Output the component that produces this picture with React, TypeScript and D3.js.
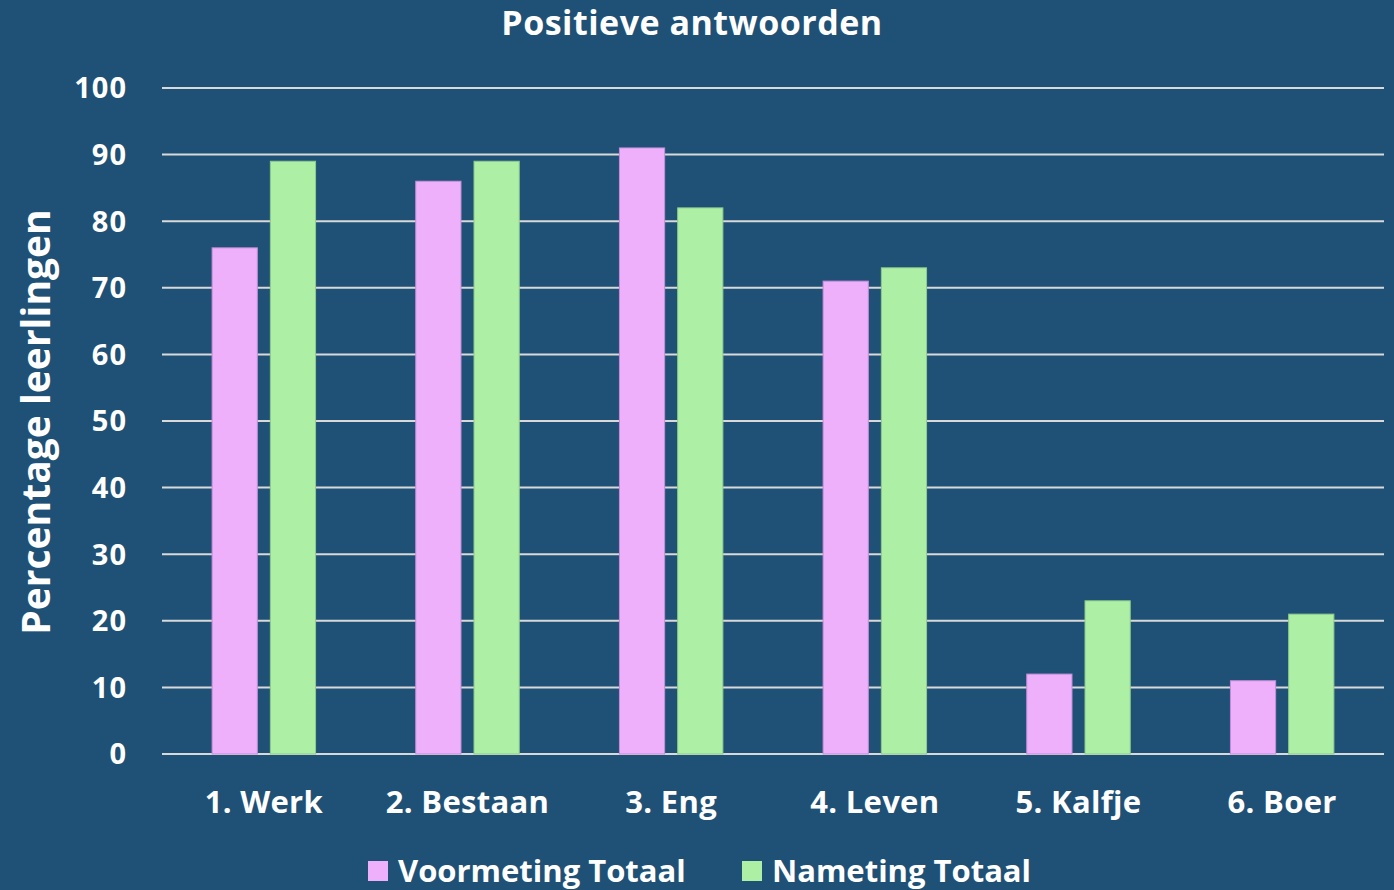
import React from 'react'
import * as d3 from 'd3'

const categories = ['1. Werk', '2. Bestaan', '3. Eng', '4. Leven', '5. Kalfje', '6. Boer']
const voormeting = [76, 86, 91, 71, 12, 11]
const nameting = [89, 89, 82, 73, 23, 21]
const yTicks = [0, 10, 20, 30, 40, 50, 60, 70, 80, 90, 100]
const seriesNames = ['Voormeting Totaal', 'Nameting Totaal']
const seriesColors = ['#EEB0FB', '#AEEFA6']

const W = 1394
const H = 890
const font = '"Open Sans", Lato, sans-serif'

export default function App() {
  const x = d3.scaleBand<string>().domain(categories).range([162, 1384])
  const y = d3.scaleLinear().domain([0, 100]).range([754, 88])
  const bw = x.bandwidth()
  const barW = bw * 0.222
  const gap = bw * 0.064
  const groupW = barW * 2 + gap
  const offset = (bw - groupW) / 2

  return (
    <svg width={W} height={H} style={{ display: 'block', position: 'absolute', left: 0, top: 0 }}>
      <rect width={W} height={H} fill="#1F5176" />
      <text x={692} y={35} textAnchor="middle" fill="#fff" fontFamily={font} fontWeight={700} fontSize={34}
        letterSpacing={0.5}>
        Positieve antwoorden
      </text>

      <g>
        {yTicks.map(t => (
          <g key={t}>
            <line x1={162} x2={1384} y1={y(t)} y2={y(t)} stroke="#D9D9D9" strokeWidth={2} />
            <text x={127} y={y(t)} dy="0.36em" textAnchor="end" fill="#fff" fontFamily={font} fontWeight={700} fontSize={29}
              letterSpacing={1}>
              {t}
            </text>
          </g>
        ))}
      </g>

      <g>
        {categories.map((c, i) => {
          const x0 = (x(c) as number) + offset
          return (
            <g key={c}>
              <rect x={x0} y={y(voormeting[i])} width={barW} height={y(0) - y(voormeting[i])}
                fill={seriesColors[0]} stroke="#C58DD8" strokeWidth={1} />
              <rect x={x0 + barW + gap} y={y(nameting[i])} width={barW} height={y(0) - y(nameting[i])}
                fill={seriesColors[1]} stroke="#8FCB8A" strokeWidth={1} />
              <text x={(x(c) as number) + bw / 2} y={813} textAnchor="middle" fill="#fff"
                fontFamily={font} fontWeight={700} fontSize={31} letterSpacing={0.3}>
                {c}
              </text>
            </g>
          )
        })}
      </g>

      <text transform="translate(50,422) rotate(-90)" textAnchor="middle" fill="#fff"
        fontFamily={font} fontWeight={700} fontSize={39}>
        Percentage leerlingen
      </text>

      <g>
        <rect x={368} y={861} width={20} height={20} fill={seriesColors[0]} />
        <text x={398} y={882} fill="#fff" fontFamily={font} fontWeight={700} fontSize={31}>{seriesNames[0]}</text>
        <rect x={742} y={861} width={20} height={20} fill={seriesColors[1]} />
        <text x={772} y={882} fill="#fff" fontFamily={font} fontWeight={700} fontSize={31}>{seriesNames[1]}</text>
      </g>
    </svg>
  )
}
